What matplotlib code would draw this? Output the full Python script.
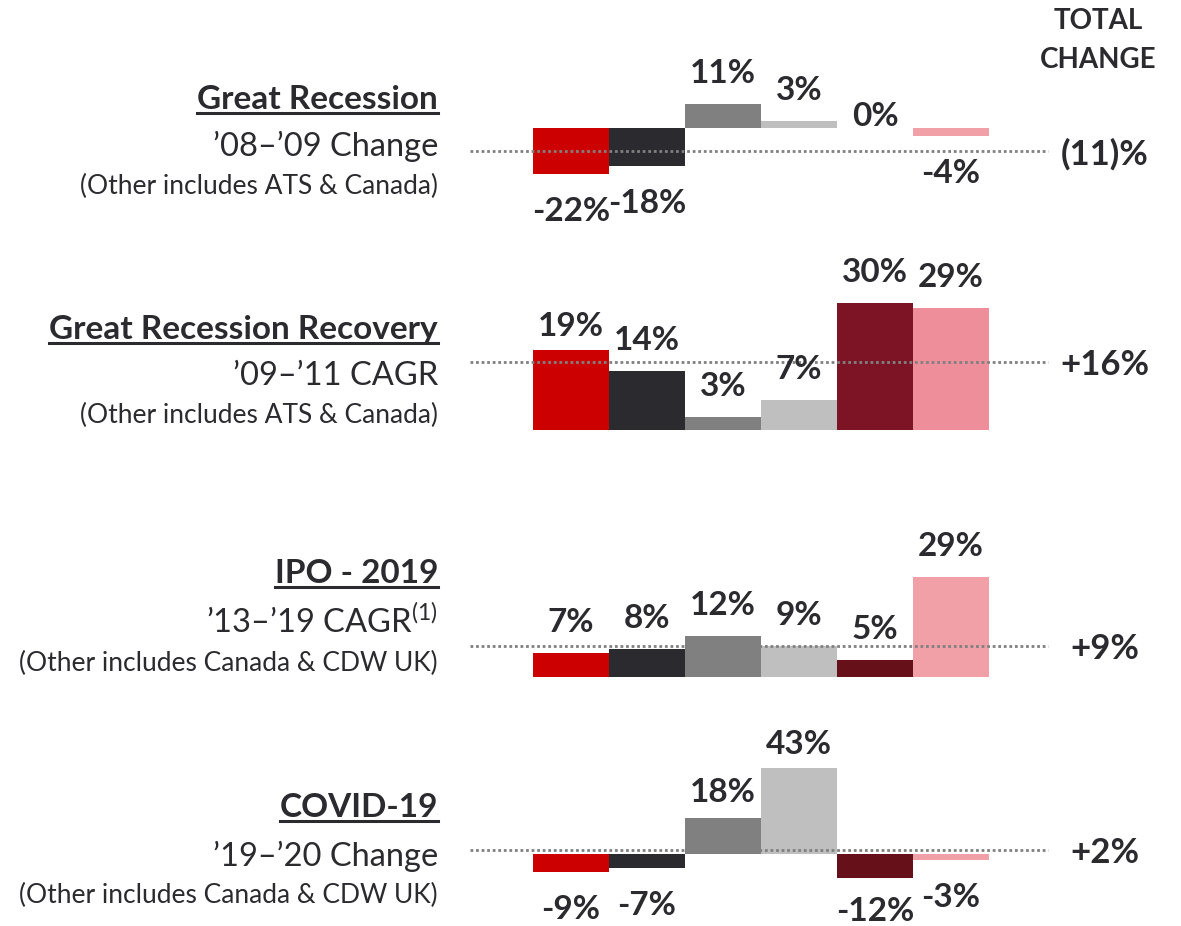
#!/usr/bin/env python3
import matplotlib
matplotlib.use("Agg")
import matplotlib.pyplot as plt
from matplotlib.lines import Line2D

plt.rcParams['font.family'] = ['Lato', 'DejaVu Sans']
plt.rcParams['mathtext.fontset'] = 'custom'
plt.rcParams['mathtext.rm'] = 'Lato'
plt.rcParams['mathtext.it'] = 'Lato:italic'
plt.rcParams['mathtext.bf'] = 'Lato:bold'

# ---- data ----
titles = ["Great Recession", "Great Recession Recovery", "IPO - 2019", "COVID-19"]
subtitles = ["\u201908\u2013\u201909 Change", "\u201909\u2013\u201911 CAGR",
             "\u201913\u2013\u201919 CAGR$^{(1)}$", "\u201919\u2013\u201920 Change"]
notes = ["(Other includes ATS & Canada)", "(Other includes ATS & Canada)",
         "(Other includes Canada & CDW UK)", "(Other includes Canada & CDW UK)"]

recession = [-22, -18, 11, 3, 0, -4]
recovery = [19, 14, 3, 7, 30, 29]
ipo_2019 = [7, 8, 12, 9, 5, 29]
covid = [-9, -7, 18, 43, -12, -3]
rows = [recession, recovery, ipo_2019, covid]

total_change = [-11, 16, 9, 2]
total_labels = ["(11)%", "+16%", "+9%", "+2%"]

# ---- style / layout ----
TXT = '#2B2B2F'
row_colors = [
    ['#CC0000', '#2B2B2F', '#808080', '#BFBFBF', '#66101A', '#F2A0A8'],
    ['#CC0000', '#2B2B2F', '#808080', '#BFBFBF', '#7D1425', '#EE8E9B'],
    ['#CC0000', '#2B2B2F', '#808080', '#BFBFBF', '#66101A', '#F2A0A8'],
    ['#CC0000', '#2B2B2F', '#808080', '#BFBFBF', '#66101A', '#F2A0A8'],
]

W, H = 1181, 926
BAR_W_PX = 76
FIRST_CENTER_PX = 571
base_px = [127.5, 430, 677, 854]      # zero line of each row (px from top)
px_per_pct = [2.13, 4.22, 3.45, 2.0]  # vertical scale of each row
title_bl = [109, 339, 583, 817]
sub_bl = [156, 385, 633, 866]
note_bl = [194, 423, 671, 903]
TEXT_RIGHT = 438
TOTAL_X = 1105
LINE_X0, LINE_X1 = 470, 1048
LABEL_FS = 24
CAP_PX = 24   # digit height of the value labels in pixels

# label gap (px) overrides for a few labels sitting closer to their bar
gap_override = {(0, 4): 2, (1, 0): 14, (3, 3): 14, (3, 2): 16, (3, 4): 19}


def px2x(px):
    return (px - FIRST_CENTER_PX) / BAR_W_PX


fig = plt.figure(figsize=(W / 100, H / 100), dpi=100)
fig.patch.set_facecolor('white')

for r, vals in enumerate(rows):
    ax = fig.add_axes([0, 0, 1, 1])
    ax.patch.set_alpha(0)
    ax.set_axis_off()
    ax.set_xlim(px2x(0), px2x(W))
    ax.set_ylim((base_px[r] - H) / px_per_pct[r], base_px[r] / px_per_pct[r])

    xs = list(range(len(vals)))
    ax.bar(xs, vals, width=1.0, color=row_colors[r], linewidth=0, zorder=2)
    ax.plot([px2x(LINE_X0), px2x(LINE_X1)], [total_change[r]] * 2,
            color='#808080', lw=2, ls=(0, (1, 1)), zorder=3)

    for i, v in enumerate(vals):
        label = f"{v}%"
        if v >= 0:
            gap = gap_override.get((r, i), 21)
            dy = gap
        else:
            gap = gap_override.get((r, i), 23)
            dy = -(gap + CAP_PX)
        ax.annotate(label, (i, v), xytext=(0, dy), textcoords='offset pixels',
                    ha='center', va='baseline', fontsize=LABEL_FS,
                    fontweight='bold', color=TXT, zorder=4)

    ax.annotate(total_labels[r], (px2x(TOTAL_X), total_change[r]),
                ha='center', va='center_baseline', fontsize=25,
                fontweight='bold', color=TXT)

# left-hand descriptions
title_texts = []
for r in range(4):
    t = fig.text(TEXT_RIGHT / W, 1 - title_bl[r] / H, titles[r], ha='right',
                 va='baseline', fontsize=24, fontweight='bold', color=TXT)
    title_texts.append((t, r))
    fig.text(TEXT_RIGHT / W, 1 - sub_bl[r] / H, subtitles[r], ha='right',
             va='baseline', fontsize=23.5, color=TXT)
    fig.text(TEXT_RIGHT / W, 1 - note_bl[r] / H, notes[r], ha='right',
             va='baseline', fontsize=19, color=TXT)

fig.text(1098 / W, 1 - 29 / H, "TOTAL", ha='center', va='baseline',
         fontsize=20, fontweight='bold', color=TXT)
fig.text(1098 / W, 1 - 68 / H, "CHANGE", ha='center', va='baseline',
         fontsize=20, fontweight='bold', color=TXT)

# underline the titles
fig.canvas.draw()
renderer = fig.canvas.get_renderer()
for t, r in title_texts:
    bb = t.get_window_extent(renderer)
    y = (H - title_bl[r] - 4) / H
    fig.add_artist(Line2D([bb.x0 / W, bb.x1 / W], [y, y], color=TXT, lw=2.2,
                          transform=fig.transFigure))

fig.savefig("out.png", dpi=100, facecolor='white')
